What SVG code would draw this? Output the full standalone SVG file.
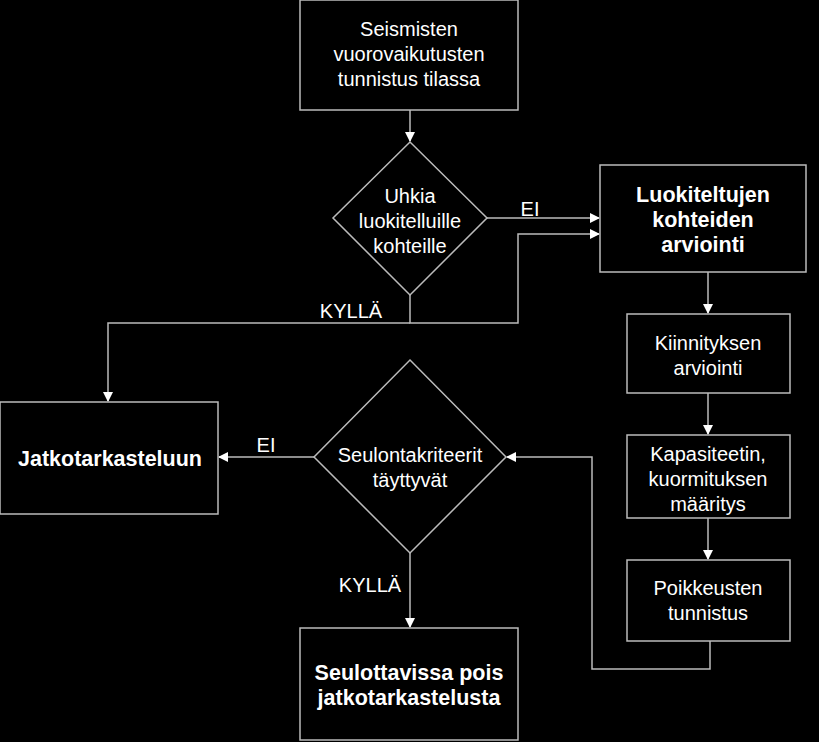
<svg xmlns="http://www.w3.org/2000/svg" width="819" height="742" viewBox="0 0 819 742">
<defs>
<marker id="ar" markerWidth="10" markerHeight="10" refX="9" refY="5" orient="auto" markerUnits="userSpaceOnUse"><path d="M0,0 L10,5 L0,10 z" fill="#fff"/></marker>
<style>
.n{fill:#000;stroke:#bbb;stroke-width:1.5}
.t{font-family:"Liberation Sans",Arial,sans-serif;font-size:20px;fill:#fff;text-anchor:middle}
.b{font-weight:bold;font-size:21.5px}
.c{fill:none;stroke:#bbb;stroke-width:1.5}
</style>
</defs>
<rect width="819" height="742" fill="#000"/>
<g id="connectors">
<path class="c" d="M410,110 V141" marker-end="url(#ar)"/>
<path class="c" d="M487,218 H599" marker-end="url(#ar)"/>
<path class="c" d="M410,295 V323 H518 V234 H599" marker-end="url(#ar)"/>
<path class="c" d="M410,323 H108 V401" marker-end="url(#ar)"/>
<path class="c" d="M708,272 V313" marker-end="url(#ar)"/>
<path class="c" d="M708,393 V434" marker-end="url(#ar)"/>
<path class="c" d="M708,518 V559" marker-end="url(#ar)"/>
<path class="c" d="M710,641 V669 H592 V457 H507" marker-end="url(#ar)"/>
<path class="c" d="M314,457 H219" marker-end="url(#ar)"/>
<path class="c" d="M410,553 V627" marker-end="url(#ar)"/>
<text class="t" x="530" y="216">EI</text>
<text class="t" x="351" y="318">KYLLÄ</text>
<text class="t" x="266" y="452">EI</text>
<text class="t" x="370" y="592">KYLLÄ</text>
</g>
<g id="n1"><rect class="n" x="300" y="0" width="218" height="110"/>
<text class="t" x="409" y="36">Seismisten</text><text class="t" x="409" y="61">vuorovaikutusten</text><text class="t" x="409" y="86">tunnistus tilassa</text></g>
<g id="d1"><polygon class="n" points="410,142 487,218 410,295 333,218"/>
<text class="t" x="410" y="203">Uhkia</text><text class="t" x="410" y="228">luokitelluille</text><text class="t" x="410" y="253">kohteille</text></g>
<g id="n2"><rect class="n" x="600" y="165" width="206" height="107"/>
<text class="t b" x="703" y="202">Luokiteltujen</text><text class="t b" x="703" y="227">kohteiden</text><text class="t b" x="703" y="252">arviointi</text></g>
<g id="n3"><rect class="n" x="627" y="314" width="163" height="79"/>
<text class="t" x="708" y="350">Kiinnityksen</text><text class="t" x="708" y="375">arviointi</text></g>
<g id="n4"><rect class="n" x="627" y="435" width="163" height="83"/>
<text class="t" x="708" y="461">Kapasiteetin,</text><text class="t" x="708" y="486">kuormituksen</text><text class="t" x="708" y="511">määritys</text></g>
<g id="n5"><rect class="n" x="627" y="560" width="163" height="81"/>
<text class="t" x="708" y="595">Poikkeusten</text><text class="t" x="708" y="620">tunnistus</text></g>
<g id="d2"><polygon class="n" points="410,360 506,457 410,553 314,457"/>
<text class="t" x="410" y="462">Seulontakriteerit</text><text class="t" x="410" y="487">täyttyvät</text></g>
<g id="n6"><rect class="n" x="0" y="402" width="218" height="112"/>
<text class="t b" x="110" y="466">Jatkotarkasteluun</text></g>
<g id="n7"><rect class="n" x="300" y="628" width="218" height="112"/>
<text class="t b" x="409" y="680">Seulottavissa pois</text><text class="t b" x="409" y="705">jatkotarkastelusta</text></g>
</svg>
